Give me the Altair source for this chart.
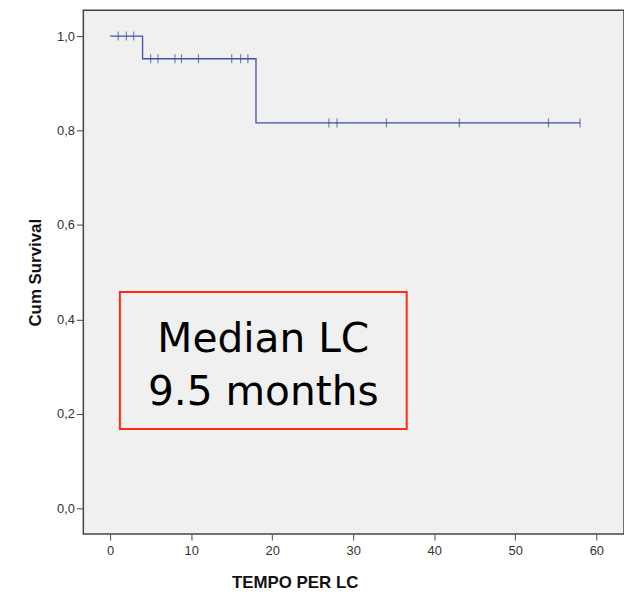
import altair as alt
import pandas as pd

# Kaplan-Meier step curve (time in months, cumulative survival)
step_time = [0, 4, 18, 58]
step_surv = [1.0, 0.952, 0.816, 0.816]

# censored observations
cens_time = [1, 2, 2.9, 5, 5.9, 8, 8.8, 10.9, 15, 16.1, 17, 27, 28, 34.1, 43.1, 54.1, 58]
cens_surv = [1.0, 1.0, 1.0, 0.952, 0.952, 0.952, 0.952, 0.952, 0.952, 0.952, 0.952,
             0.816, 0.816, 0.816, 0.816, 0.816, 0.816]

# annotation
note_lines = ["Median LC", "9.5 months"]
note_box_x = [1.2, 36.6]
note_box_y = [0.168, 0.458]
note_text_x = [18.9, 18.9]
note_text_y = [0.356, 0.245]

x_dom = [-3.31, 63.42]
y_dom = [-0.0546, 1.0546]

steps = pd.DataFrame({"t": step_time, "s": step_surv})
cens = pd.DataFrame({"t": cens_time, "s": cens_surv})
box = pd.DataFrame({"x": [note_box_x[0]], "x2": [note_box_x[1]],
                    "y": [note_box_y[0]], "y2": [note_box_y[1]]})
txt = pd.DataFrame({"x": note_text_x, "y": note_text_y, "label": note_lines})

xs = alt.Scale(domain=x_dom, nice=False, zero=False)
ys = alt.Scale(domain=y_dom, nice=False, zero=False)

xaxis = alt.Axis(values=[0, 10, 20, 30, 40, 50, 60], title="TEMPO PER LC", grid=False,
                 domain=False, tickColor="#444", tickSize=6, labelColor="#333",
                 labelFontSize=13, labelFont="Liberation Sans", labelPadding=5,
                 titleFont="Liberation Sans", titleFontSize=17, titleFontWeight="bold",
                 titleColor="#111", titleX=213, titleY=49, titleBaseline="middle")
yaxis = alt.Axis(values=[0, 0.2, 0.4, 0.6, 0.8, 1.0], title="Cum Survival", grid=False,
                 domain=False, tickColor="#444", tickSize=7, labelColor="#333",
                 labelFontSize=13, labelFont="Liberation Sans", labelPadding=2,
                 labelExpr="replace(format(datum.value, '.1f'), '.', ',')",
                 titleFont="Liberation Sans", titleFontSize=17, titleFontWeight="bold",
                 titleColor="#111", titlePadding=12)

line = alt.Chart(steps).mark_line(interpolate="step-after", color="#3f51a0", strokeWidth=1.3).encode(
    x=alt.X("t:Q", scale=xs, axis=xaxis),
    y=alt.Y("s:Q", scale=ys, axis=yaxis),
)
ticks = alt.Chart(cens).mark_tick(orient="vertical", color="#3f51a0", size=9, thickness=1.2).encode(
    x=alt.X("t:Q", scale=xs), y=alt.Y("s:Q", scale=ys)
)
rect = alt.Chart(box).mark_rect(fill="#f0f0f0", stroke="#ff2a10", strokeWidth=2).encode(
    x=alt.X("x:Q", scale=xs), x2="x2", y=alt.Y("y:Q", scale=ys), y2="y2"
)
text = alt.Chart(txt).mark_text(font="DejaVu Sans", fontSize=41, color="#000",
                                align="center", baseline="middle").encode(
    x=alt.X("x:Q", scale=xs), y=alt.Y("y:Q", scale=ys), text="label:N"
)

chart = (line + ticks + rect + text).properties(
    width=545, height=528,
    autosize=alt.AutoSizeParams(type="none"),
    padding={"left": 84, "top": 8, "right": 0, "bottom": 59},
    background="white",
).configure_view(fill="#f0f0f0", stroke="#444", strokeWidth=1.5)

chart.save("out.html", embed_options={"renderer": "svg", "actions": False})
